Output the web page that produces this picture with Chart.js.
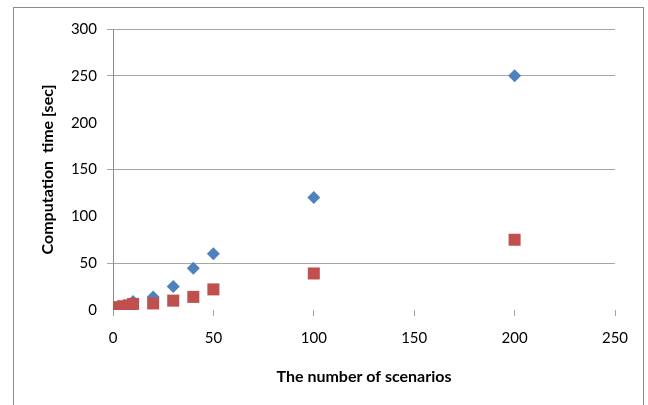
<!DOCTYPE html>
<html>
<head>
<meta charset="utf-8">
<script src="https://cdn.jsdelivr.net/npm/chart.js@4"></script>
<style>
  body { margin: 0; background: #fff; }
  #frame { position: absolute; left: 13px; top: 7px; width: 631px; height: 430px; box-sizing: border-box; border: 1px solid #8c8c8c; }
  #wrap { position: absolute; left: 0; top: 0; width: 648px; height: 405px; }
</style>
</head>
<body>
<div id="frame"></div>
<div id="wrap"><canvas id="myChart"></canvas></div>
<script>
const ctx = document.getElementById('myChart');

const scenarios = [1, 3, 5, 8, 10, 20, 30, 40, 50, 100, 200];
const timeBlue = [1, 2, 4, 6, 9, 14, 25, 44.5, 60, 120, 250];
const timeRed = [2, 3, 4, 5, 6.5, 7, 10, 14, 22, 39, 75];
const xTicks = [0, 50, 100, 150, 200, 250];
const yGridAt = [50, 150, 250, 300]; // lines that show in the picture

const gridc = '#a6a6a6';
const txt = '#000000';
const fontName = 'Lato, "Open Sans", sans-serif';

new Chart(ctx, {
    type: 'scatter',
    data: {
        datasets: [
            {
                label: 'series 1',
                data: scenarios.map((x, i) => ({x: x, y: timeBlue[i]})),
                backgroundColor: '#4F81BD',
                borderWidth: 0,
                pointStyle: 'rectRot',
                pointRadius: 6.5,
                order: 1
            },
            {
                label: 'series 2',
                data: scenarios.map((x, i) => ({x: x, y: timeRed[i]})),
                backgroundColor: '#C0504D',
                borderWidth: 0,
                pointStyle: 'rect',
                pointRadius: 8.5,
                order: 0
            }
        ]
    },
    options: {
        responsive: true,
        maintainAspectRatio: false,
        animation: false,
        layout: {
            padding: {left: 0, top: 29, right: 33, bottom: 0}
        },
        scales: {
            x: {
                type: 'linear',
                min: 0,
                max: 250,
                afterBuildTicks: (scale) => { scale.ticks = xTicks.map(v => ({value: v})); },
                afterFit: (scale) => { scale.height = 95; },
                border: { display: false },
                grid: {
                    drawOnChartArea: false,
                    tickLength: 6,
                    tickColor: gridc
                },
                ticks: {
                    color: txt,
                    padding: 13,
                    maxRotation: 0,
                    font: { family: fontName, size: 15 }
                },
                title: {
                    display: true,
                    text: 'The number of scenarios',
                    color: txt,
                    padding: {top: 0, bottom: 19},
                    font: { family: fontName, size: 16, weight: 'bold' }
                }
            },
            y: {
                min: 0,
                max: 300,
                afterFit: (scale) => { scale.width = 113; },
                border: { color: '#8c8c8c', width: 1 },
                grid: {
                    color: (c) => yGridAt.includes(c.tick.value) ? gridc : 'rgba(0,0,0,0)',
                    tickLength: 6
                },
                ticks: {
                    stepSize: 50,
                    color: txt,
                    padding: 10,
                    font: { family: fontName, size: 15 }
                },
                title: {
                    display: true,
                    text: 'Computation  time [sec]',
                    color: txt,
                    padding: {top: 38, bottom: 0},
                    font: { family: fontName, size: 16, weight: 'bold' }
                }
            }
        },
        plugins: {
            legend: { display: false },
            tooltip: { enabled: false }
        }
    }
});
</script>
</body>
</html>
